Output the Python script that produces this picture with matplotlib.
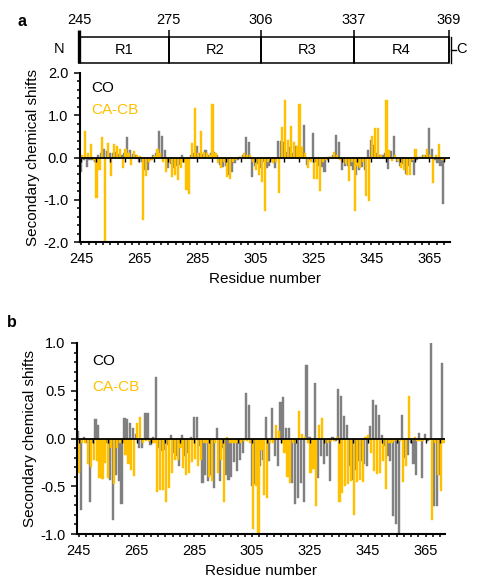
import numpy as np
import matplotlib
matplotlib.use("Agg")
import matplotlib.pyplot as plt
from matplotlib.patches import Rectangle
from matplotlib.markers import TICKDOWN

plt.rcParams['font.family'] = ['Liberation Sans', 'DejaVu Sans']

W, H = 478, 588
GRAY = '#808080'
GOLD = '#ffc000'

# ============ data ====================
domain_edges = [245, 275, 306, 337, 369]
domain_names = ['R1', 'R2', 'R3', 'R4']

# panel a: residues 245-370
res_a = np.arange(245, 371)
co_a = [-0.35, -0.05, -0.22, -0.05, -0.05, -0.10, 0.05, 0.10, 0.19, 0.16,
        0.10, 0.10, 0.14, 0.08, 0.05, 0.10, 0.49, 0.17, 0.08, 0.05,
        -0.10, -0.10, -0.30, -0.30, -0.05, 0.05, 0.10, 0.62, 0.50, 0.17,
        -0.24, -0.15, -0.24, -0.20, -0.18, 0.05, -0.10, -0.30, 0.05, 0.10,
        0.28, 0.10, 0.09, 0.17, 0.05, 0.10, 0.13, 0.05, -0.18, -0.22,
        -0.20, -0.42, -0.34, -0.14, -0.05, 0.02, 0.05, 0.49, 0.37, -0.47,
        -0.20, -0.15, -0.25, -0.10, -0.24, -0.20, -0.05, -0.26, 0.39, 0.38,
        0.37, 0.14, 0.24, 0.10, 0.27, 0.15, 0.25, 0.76, -0.18, -0.06,
        0.59, -0.10, -0.20, -0.22, -0.34, -0.05, 0.02, 0.05, 0.53, 0.37,
        -0.30, -0.21, -0.20, -0.21, -0.30, -0.42, -0.30, -0.22, -0.30, 0.17,
        0.41, 0.30, 0.10, 0.05, 0.05, 0.10, -0.27, 0.15, 0.52, -0.10,
        -0.21, -0.15, -0.38, -0.21, -0.10, -0.42, -0.05, 0.02, 0.05, 0.05,
        0.71, 0.19, -0.05, -0.14, -0.21, -1.10]
cacb_a = [0.05, 0.62, 0.10, 0.32, -0.05, -0.95, -0.30, 0.49, -2.00, 0.35,
          -0.44, 0.32, 0.27, 0.21, -0.24, 0.20, 0.10, -0.18, 0.16, 0.05,
          0.03, -1.47, -0.44, -0.10, -0.05, 0.03, 0.19, 0.10, -0.10, -0.35,
          -0.10, -0.45, -0.42, -0.54, -0.26, -0.10, -0.77, -0.87, 0.35, 1.17,
          0.10, 0.62, 0.13, 0.11, 0.05, 1.26, 0.10, -0.14, -0.24, -0.10,
          -0.46, -0.52, -0.10, -0.05, 0.02, 0.02, 0.10, 0.05, 0.05, -0.10,
          -0.30, -0.42, -0.58, -1.27, -0.10, -0.05, -0.14, -0.10, -0.83, 0.73,
          1.35, 0.41, 0.75, 0.37, 0.27, 1.27, 0.25, 0.10, -0.24, -0.10,
          -0.52, -0.52, -0.79, -0.10, -0.05, 0.02, 0.02, 0.13, 0.05, -0.06,
          -0.10, -0.15, -0.55, -0.10, -1.27, -0.20, -0.26, -0.10, -0.90, -1.02,
          0.50, 0.69, 0.70, 0.05, -0.02, 1.35, 0.17, -0.08, 0.05, -0.08,
          -0.26, -0.30, -0.42, -0.42, -0.05, 0.19, 0.02, 0.02, 0.05, 0.21,
          0.05, -0.60, 0.05, 0.32, -0.05, -0.05]

# panel b: residues 245-371
res_b = np.arange(245, 372)
co_b = [0.08, -0.75, 0.02, -0.05, -0.67, -0.05, 0.20, 0.14, -0.10, -0.13,
        -0.05, -0.43, -0.85, -0.38, -0.45, -0.69, 0.21, 0.20, 0.16, 0.11,
        0.05, -0.10, -0.10, 0.27, 0.27, -0.07, 0.02, 0.64, -0.10, -0.13,
        -0.12, -0.07, 0.04, -0.15, -0.18, -0.29, 0.04, -0.18, -0.15, 0.02,
        0.23, 0.23, -0.08, -0.47, -0.38, -0.45, -0.38, -0.52, 0.11, -0.45,
        -0.10, -0.38, -0.43, -0.40, -0.25, -0.34, -0.22, -0.15, 0.48, 0.35,
        -0.50, -0.48, -0.05, -0.29, -0.22, 0.23, -0.24, 0.32, -0.18, -0.29,
        0.38, 0.43, 0.11, 0.11, -0.47, -0.69, -0.62, -0.47, -0.67, 0.77,
        0.02, -0.24, 0.58, -0.41, -0.18, -0.27, -0.18, -0.45, 0.02, -0.03,
        0.52, 0.45, 0.24, 0.14, -0.29, -0.43, -0.33, -0.24, -0.24, -0.27,
        -0.29, 0.13, 0.40, 0.35, 0.25, 0.04, -0.08, -0.18, -0.24, -0.81,
        -0.90, -1.00, 0.25, -0.20, -0.17, -0.05, -0.27, -0.38, 0.06, -0.41,
        0.05, -0.03, 1.01, -0.71, -0.71, -0.38, 0.79]
cacb_b = [-0.36, -0.05, -0.05, -0.27, -0.30, -0.22, -0.24, -0.41, -0.42, -0.26,
          -0.41, -0.10, -0.48, -0.10, -0.05, -0.05, -0.17, -0.27, -0.33, -0.39,
          0.16, 0.23, -0.05, -0.03, -0.03, -0.05, -0.05, -0.56, -0.54, -0.54,
          -0.67, -0.52, -0.36, -0.22, -0.22, -0.10, -0.31, -0.38, -0.36, -0.25,
          -0.21, -0.29, -0.22, -0.05, -0.05, -0.40, -0.45, -0.05, -0.36, -0.22,
          -0.67, 0.02, -0.05, -0.05, -0.05, -0.05, -0.05, -0.03, -0.03, -0.05,
          -0.95, -0.50, -1.00, -0.12, -0.59, -0.62, -0.05, -0.05, 0.14, 0.08,
          -0.05, -0.15, -0.40, -0.47, -0.05, -0.05, 0.29, 0.05, 0.02, -0.05,
          -0.36, -0.32, -0.71, 0.14, 0.21, -0.05, -0.05, -0.03, -0.03, 0.02,
          -0.67, -0.57, -0.50, -0.48, -0.45, -0.80, -0.46, -0.43, -0.46, 0.02,
          0.04, -0.15, -0.34, -0.37, -0.36, -0.24, -0.53, -0.05, -0.05, -0.03,
          -0.03, -0.03, -0.46, -0.29, 0.44, -0.03, 0.02, -0.03, -0.03, -0.03,
          -0.02, -0.02, -0.85, -0.05, -0.38, -0.55, -0.05]
# ======================================


def rect(left, top, right, bottom):
    # pixel box -> figure fraction [l, b, w, h]
    return [left / W, 1 - bottom / H, (right - left) / W, (bottom - top) / H]


fig = plt.figure(figsize=(W / 100, H / 100), dpi=100)

# ---- domain map ----
dax = fig.add_axes(rect(79, 15, 449, 65))
dax.set_xlim(245, 369)
dax.set_ylim(50, 0)
dax.axis('off')
for a, b, name in zip(domain_edges[:-1], domain_edges[1:], domain_names):
    dax.add_patch(Rectangle((a, 22), b - a, 25.5, fill=False, lw=1.1,
                            ec='black', clip_on=False))
    dax.text((a + b) / 2, 35, name, ha='center', va='center', fontsize=10.5)
for e in domain_edges:
    dax.plot([e, e], [15, 47.5], color='black', lw=2.4 if e == 245 else 1.1,
             clip_on=False, solid_capstyle='butt')
    dax.text(e, 5, str(e), ha='center', va='center', fontsize=10.5)
dax.plot([369.8, 369.8], [22, 47.5], color='black', lw=1.0, clip_on=False)
dax.plot([369.8, 371.3], [34.5, 34.5], color='black', lw=1.0, clip_on=False)
dax.text(371.5, 34, 'C', ha='left', va='center', fontsize=10.5)
dax.text(240, 34, 'N', ha='right', va='center', fontsize=10.5)


def shift_panel(ax, res, co, cacb, ylim, major, minor, xmax):
    ax.bar(res - 0.2, co, width=0.75, color=GRAY, ec=GRAY, lw=0.3)
    ax.bar(res + 0.2, cacb, width=0.75, color=GOLD, ec=GOLD, lw=0.3)
    ax.axhline(0, color='black', lw=1.3)
    zt = np.arange(245, 371, 5)
    ax.plot(zt, np.zeros(len(zt)), ls='', marker=TICKDOWN, ms=3,
            mew=1, color='black')
    ax.set_xlim(244.5, xmax)
    ax.set_ylim(*ylim)
    ax.set_xticks(np.arange(245, 366, 20))
    ax.set_xticks(np.arange(245, 371, 2.5), minor=True)
    ax.set_yticks(np.arange(ylim[0], ylim[1] + 1e-9, major))
    ax.set_yticks(np.arange(ylim[0], ylim[1] + 1e-9, minor), minor=True)
    ax.yaxis.set_major_formatter(matplotlib.ticker.FormatStrFormatter('%.1f'))
    for s in ['top', 'right']:
        ax.spines[s].set_visible(False)
    for s in ['left', 'bottom']:
        ax.spines[s].set_linewidth(1.5)
    ax.tick_params(axis='x', which='both', direction='out', length=2.5,
                   width=1.1, labelsize=10.5, pad=5)
    ax.tick_params(axis='y', which='major', direction='out', length=4.5,
                   width=1.1, labelsize=10.5, pad=4)
    ax.tick_params(axis='y', which='minor', direction='out', length=2.5,
                   width=1.1)
    ax.set_xlabel('Residue number', fontsize=11, labelpad=4)
    ax.set_ylabel('Secondary chemical shifts', fontsize=11, labelpad=2)


ax_a = fig.add_axes(rect(80, 73, 450, 242))
shift_panel(ax_a, res_a, co_a, cacb_a, (-2.0, 2.0), 1.0, 0.2, 372.1)
ax_a.text(0.03, 0.91, 'CO', transform=ax_a.transAxes, fontsize=11,
          va='center', ha='left', color='black')
ax_a.text(0.03, 0.78, 'CA-CB', transform=ax_a.transAxes, fontsize=11,
          va='center', ha='left', color=GOLD)

ax_b = fig.add_axes(rect(77.3, 343, 445, 534))
shift_panel(ax_b, res_b, co_b, cacb_b, (-1.0, 1.0), 0.5, 0.1, 371.7)
ax_b.text(0.04, 0.905, 'CO', transform=ax_b.transAxes, fontsize=11,
          va='center', ha='left', color='black')
ax_b.text(0.04, 0.77, 'CA-CB', transform=ax_b.transAxes, fontsize=11,
          va='center', ha='left', color=GOLD)

fig.text(22 / W, 1 - 22 / H, 'a', fontsize=11.5, fontweight='bold',
         ha='center', va='center')
fig.text(12 / W, 1 - 322 / H, 'b', fontsize=11.5, fontweight='bold',
         ha='center', va='center')

fig.savefig('out.png', dpi=100)
